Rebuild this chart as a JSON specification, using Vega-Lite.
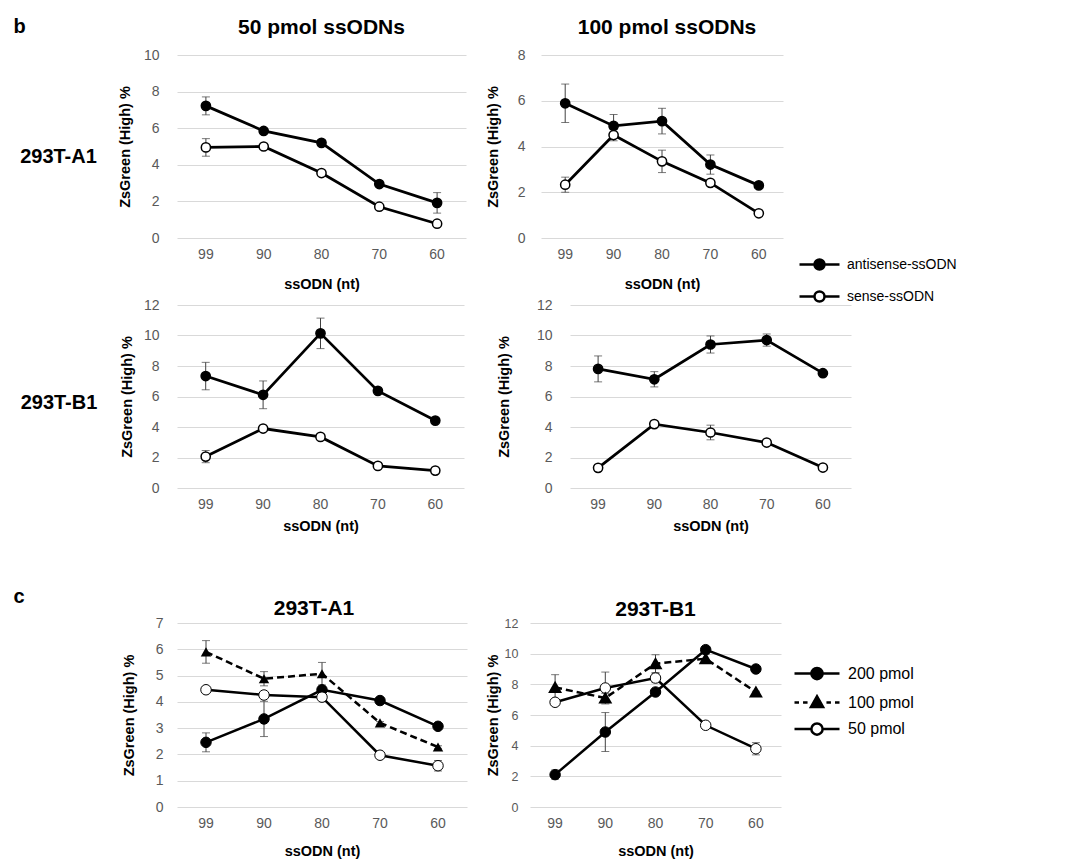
{
  "$schema": "https://vega.github.io/schema/vega-lite/v6.json",
  "background": "white",
  "padding": {"left": 0, "top": 17, "right": 5, "bottom": 2},
  "align": "each",
  "spacing": -100,
  "resolve": {"scale": {"fill": "independent", "shape": "independent", "strokeDash": "independent", "stroke": "independent"}},
  "datasets": {
    "d": [
      {"p": "b50A1", "s": "antisense-ssODN", "nt": 99, "v": 7.22, "e": 0.49},
      {"p": "b50A1", "s": "antisense-ssODN", "nt": 90, "v": 5.85, "e": 0.1},
      {"p": "b50A1", "s": "antisense-ssODN", "nt": 80, "v": 5.2, "e": 0.15},
      {"p": "b50A1", "s": "antisense-ssODN", "nt": 70, "v": 2.95, "e": 0.05},
      {"p": "b50A1", "s": "antisense-ssODN", "nt": 60, "v": 1.92, "e": 0.56},
      {"p": "b50A1", "s": "sense-ssODN", "nt": 99, "v": 4.95, "e": 0.48},
      {"p": "b50A1", "s": "sense-ssODN", "nt": 90, "v": 5.0, "e": 0.05},
      {"p": "b50A1", "s": "sense-ssODN", "nt": 80, "v": 3.55, "e": 0.05},
      {"p": "b50A1", "s": "sense-ssODN", "nt": 70, "v": 1.71, "e": 0.05},
      {"p": "b50A1", "s": "sense-ssODN", "nt": 60, "v": 0.78, "e": 0.05},
      {"p": "b100A1", "s": "antisense-ssODN", "nt": 99, "v": 5.89, "e": 0.84},
      {"p": "b100A1", "s": "antisense-ssODN", "nt": 90, "v": 4.9, "e": 0.5},
      {"p": "b100A1", "s": "antisense-ssODN", "nt": 80, "v": 5.11, "e": 0.56},
      {"p": "b100A1", "s": "antisense-ssODN", "nt": 70, "v": 3.21, "e": 0.42},
      {"p": "b100A1", "s": "antisense-ssODN", "nt": 60, "v": 2.3, "e": 0.1},
      {"p": "b100A1", "s": "sense-ssODN", "nt": 99, "v": 2.33, "e": 0.33},
      {"p": "b100A1", "s": "sense-ssODN", "nt": 90, "v": 4.5, "e": 0.25},
      {"p": "b100A1", "s": "sense-ssODN", "nt": 80, "v": 3.35, "e": 0.49},
      {"p": "b100A1", "s": "sense-ssODN", "nt": 70, "v": 2.41, "e": 0.05},
      {"p": "b100A1", "s": "sense-ssODN", "nt": 60, "v": 1.08, "e": 0.05},
      {"p": "b50B1", "s": "antisense-ssODN", "nt": 99, "v": 7.34, "e": 0.9},
      {"p": "b50B1", "s": "antisense-ssODN", "nt": 90, "v": 6.11, "e": 0.91},
      {"p": "b50B1", "s": "antisense-ssODN", "nt": 80, "v": 10.14, "e": 1.0},
      {"p": "b50B1", "s": "antisense-ssODN", "nt": 70, "v": 6.37, "e": 0.05},
      {"p": "b50B1", "s": "antisense-ssODN", "nt": 60, "v": 4.42, "e": 0.05},
      {"p": "b50B1", "s": "sense-ssODN", "nt": 99, "v": 2.06, "e": 0.4},
      {"p": "b50B1", "s": "sense-ssODN", "nt": 90, "v": 3.9, "e": 0.05},
      {"p": "b50B1", "s": "sense-ssODN", "nt": 80, "v": 3.35, "e": 0.05},
      {"p": "b50B1", "s": "sense-ssODN", "nt": 70, "v": 1.45, "e": 0.05},
      {"p": "b50B1", "s": "sense-ssODN", "nt": 60, "v": 1.14, "e": 0.05},
      {"p": "b100B1", "s": "antisense-ssODN", "nt": 99, "v": 7.81, "e": 0.85},
      {"p": "b100B1", "s": "antisense-ssODN", "nt": 90, "v": 7.13, "e": 0.5},
      {"p": "b100B1", "s": "antisense-ssODN", "nt": 80, "v": 9.41, "e": 0.56},
      {"p": "b100B1", "s": "antisense-ssODN", "nt": 70, "v": 9.7, "e": 0.4},
      {"p": "b100B1", "s": "antisense-ssODN", "nt": 60, "v": 7.53, "e": 0.05},
      {"p": "b100B1", "s": "sense-ssODN", "nt": 99, "v": 1.32, "e": 0.05},
      {"p": "b100B1", "s": "sense-ssODN", "nt": 90, "v": 4.19, "e": 0.05},
      {"p": "b100B1", "s": "sense-ssODN", "nt": 80, "v": 3.64, "e": 0.48},
      {"p": "b100B1", "s": "sense-ssODN", "nt": 70, "v": 2.98, "e": 0.05},
      {"p": "b100B1", "s": "sense-ssODN", "nt": 60, "v": 1.34, "e": 0.05},
      {"p": "cA1", "s": "200 pmol", "nt": 99, "v": 2.46, "e": 0.36},
      {"p": "cA1", "s": "200 pmol", "nt": 90, "v": 3.35, "e": 0.67},
      {"p": "cA1", "s": "200 pmol", "nt": 80, "v": 4.46, "e": 0.1},
      {"p": "cA1", "s": "200 pmol", "nt": 70, "v": 4.05, "e": 0.05},
      {"p": "cA1", "s": "200 pmol", "nt": 60, "v": 3.07, "e": 0.05},
      {"p": "cA1", "s": "100 pmol", "nt": 99, "v": 5.9, "e": 0.43},
      {"p": "cA1", "s": "100 pmol", "nt": 90, "v": 4.88, "e": 0.27},
      {"p": "cA1", "s": "100 pmol", "nt": 80, "v": 5.07, "e": 0.43},
      {"p": "cA1", "s": "100 pmol", "nt": 70, "v": 3.2, "e": 0.05},
      {"p": "cA1", "s": "100 pmol", "nt": 60, "v": 2.28, "e": 0.05},
      {"p": "cA1", "s": "50 pmol", "nt": 99, "v": 4.46, "e": 0.05},
      {"p": "cA1", "s": "50 pmol", "nt": 90, "v": 4.26, "e": 0.05},
      {"p": "cA1", "s": "50 pmol", "nt": 80, "v": 4.18, "e": 0.05},
      {"p": "cA1", "s": "50 pmol", "nt": 70, "v": 1.97, "e": 0.05},
      {"p": "cA1", "s": "50 pmol", "nt": 60, "v": 1.57, "e": 0.2},
      {"p": "cB1", "s": "200 pmol", "nt": 99, "v": 2.11, "e": 0.3},
      {"p": "cB1", "s": "200 pmol", "nt": 90, "v": 4.89, "e": 1.27},
      {"p": "cB1", "s": "200 pmol", "nt": 80, "v": 7.5, "e": 0.1},
      {"p": "cB1", "s": "200 pmol", "nt": 70, "v": 10.26, "e": 0.1},
      {"p": "cB1", "s": "200 pmol", "nt": 60, "v": 9.0, "e": 0.05},
      {"p": "cB1", "s": "100 pmol", "nt": 99, "v": 7.8, "e": 0.83},
      {"p": "cB1", "s": "100 pmol", "nt": 90, "v": 7.11, "e": 0.3},
      {"p": "cB1", "s": "100 pmol", "nt": 80, "v": 9.35, "e": 0.58},
      {"p": "cB1", "s": "100 pmol", "nt": 70, "v": 9.67, "e": 0.3},
      {"p": "cB1", "s": "100 pmol", "nt": 60, "v": 7.5, "e": 0.05},
      {"p": "cB1", "s": "50 pmol", "nt": 99, "v": 6.83, "e": 0.05},
      {"p": "cB1", "s": "50 pmol", "nt": 90, "v": 7.76, "e": 1.04},
      {"p": "cB1", "s": "50 pmol", "nt": 80, "v": 8.41, "e": 0.3},
      {"p": "cB1", "s": "50 pmol", "nt": 70, "v": 5.33, "e": 0.05},
      {"p": "cB1", "s": "50 pmol", "nt": 60, "v": 3.8, "e": 0.4}
    ]
  },
  "data": {"name": "d"},
  "vconcat": [
    {
      "bounds": "flush",
      "spacing": 20,
      "resolve": {"scale": {"fill": "independent", "shape": "independent", "strokeDash": "independent", "stroke": "independent"}},
      "hconcat": [
        {
          "width": 157, "height": 250,
          "layer": [
            {"data": {"values": [{"t": "b"}]}, "mark": {"type": "text", "fontSize": 20, "fontWeight": "bold", "align": "center", "baseline": "alphabetic", "dx": -59, "dy": -147}, "encoding": {"text": {"field": "t"}}},
            {"data": {"values": [{"t": "293T-A1"}]}, "mark": {"type": "text", "fontSize": 20, "fontWeight": "bold", "align": "center", "baseline": "middle", "dx": -20, "dy": -23}, "encoding": {"text": {"field": "t"}}}
          ]
        },
        {
          "width": 289, "height": 183,
          "title": {"text": "50 pmol ssODNs", "offset": 10},
          "transform": [{"filter": "datum.p == 'b50A1'"}],
          "encoding": {
            "x": {"field": "nt", "type": "ordinal", "sort": "descending", "axis": {"title": "ssODN (nt)", "titlePadding": 16}},
            "y": {"field": "v", "type": "quantitative", "scale": {"domain": [0, 10], "nice": false}, "axis": {"title": "ZsGreen (High) %", "values": [0, 2, 4, 6, 8, 10], "labelPadding": 18, "titlePadding": 11}}
          },
          "layer": [
            {"mark": {"type": "errorbar", "color": "#404040", "ticks": {"size": 8}, "rule": {"strokeWidth": 1}}, "encoding": {"yError": {"field": "e"}}},
            {"mark": {"type": "line", "color": "black", "strokeWidth": 2.75}, "encoding": {"detail": {"field": "s"}}},
            {"mark": {"type": "point", "shape": "circle", "filled": true, "stroke": "black", "strokeWidth": 1.5, "size": 85, "opacity": 1},
             "encoding": {"fill": {"field": "s", "type": "nominal", "scale": {"domain": ["antisense-ssODN", "sense-ssODN"], "range": ["black", "white"]}, "legend": null}}}
          ]
        },
        {"width": 35, "height": 1, "data": {"values": []}, "mark": "point"},
        {
          "width": 242, "height": 183,
          "title": {"text": "100 pmol ssODNs", "offset": 10, "dx": 5},
          "transform": [{"filter": "datum.p == 'b100A1'"}],
          "encoding": {
            "x": {"field": "nt", "type": "ordinal", "sort": "descending", "axis": {"title": "ssODN (nt)", "titlePadding": 16}},
            "y": {"field": "v", "type": "quantitative", "scale": {"domain": [0, 8], "nice": false}, "axis": {"title": "ZsGreen (High) %", "values": [0, 2, 4, 6, 8], "labelPadding": 16, "titlePadding": 17}}
          },
          "layer": [
            {"mark": {"type": "errorbar", "color": "#404040", "ticks": {"size": 8}, "rule": {"strokeWidth": 1}}, "encoding": {"yError": {"field": "e"}}},
            {"mark": {"type": "line", "color": "black", "strokeWidth": 2.75}, "encoding": {"detail": {"field": "s"}}},
            {"mark": {"type": "point", "shape": "circle", "filled": true, "stroke": "black", "strokeWidth": 1.5, "size": 85, "opacity": 1},
             "encoding": {"fill": {"field": "s", "type": "nominal", "scale": {"domain": ["antisense-ssODN", "sense-ssODN"], "range": ["black", "white"]}, "legend": null}}}
          ]
        }
      ]
    },
    {
      "bounds": "flush",
      "spacing": 20,
      "resolve": {"scale": {"fill": "independent", "shape": "independent", "strokeDash": "independent", "stroke": "independent"}},
      "hconcat": [
        {
          "width": 157, "height": 318,
          "data": {"values": [{"t": "293T-B1"}]},
          "mark": {"type": "text", "fontSize": 20, "fontWeight": "bold", "align": "center", "baseline": "middle", "dx": -19.5, "dy": -61},
          "encoding": {"text": {"field": "t"}}
        },
        {
          "width": 287, "height": 183,
          "transform": [{"filter": "datum.p == 'b50B1'"}],
          "encoding": {
            "x": {"field": "nt", "type": "ordinal", "sort": "descending", "axis": {"title": "ssODN (nt)", "titlePadding": 8}},
            "y": {"field": "v", "type": "quantitative", "scale": {"domain": [0, 12], "nice": false}, "axis": {"title": "ZsGreen (High) %", "values": [0, 2, 4, 6, 8, 10, 12], "labelPadding": 18, "titlePadding": 9}}
          },
          "layer": [
            {"mark": {"type": "errorbar", "color": "#404040", "ticks": {"size": 8}, "rule": {"strokeWidth": 1}}, "encoding": {"yError": {"field": "e"}}},
            {"mark": {"type": "line", "color": "black", "strokeWidth": 2.75}, "encoding": {"detail": {"field": "s"}}},
            {"mark": {"type": "point", "shape": "circle", "filled": true, "stroke": "black", "strokeWidth": 1.5, "size": 85, "opacity": 1},
             "encoding": {"fill": {"field": "s", "type": "nominal", "scale": {"domain": ["antisense-ssODN", "sense-ssODN"], "range": ["black", "white"]}, "legend": null}}}
          ]
        },
        {"width": 66, "height": 1, "data": {"values": []}, "mark": "point"},
        {
          "width": 281, "height": 183,
          "transform": [{"filter": "datum.p == 'b100B1'"}],
          "encoding": {
            "x": {"field": "nt", "type": "ordinal", "sort": "descending", "axis": {"title": "ssODN (nt)", "titlePadding": 8}},
            "y": {"field": "v", "type": "quantitative", "scale": {"domain": [0, 12], "nice": false}, "axis": {"title": "ZsGreen (High) %", "values": [0, 2, 4, 6, 8, 10, 12], "labelPadding": 18, "titlePadding": 25}}
          },
          "layer": [
            {"mark": {"type": "errorbar", "color": "#404040", "ticks": {"size": 8}, "rule": {"strokeWidth": 1}}, "encoding": {"yError": {"field": "e"}}},
            {"mark": {"type": "line", "color": "black", "strokeWidth": 2.75}, "encoding": {"detail": {"field": "s"}}},
            {"mark": {"type": "point", "shape": "circle", "filled": true, "stroke": "black", "strokeWidth": 1.5, "size": 85, "opacity": 1},
             "encoding": {"fill": {"field": "s", "type": "nominal", "scale": {"domain": ["antisense-ssODN", "sense-ssODN"], "range": ["black", "white"]},
               "legend": {"orient": "none", "legendX": 228, "legendY": -62, "title": null, "labelFontSize": 14, "labelOffset": 6, "rowPadding": -1,
                 "symbolType": "M-1,0L-0.25,0M0.25,0L1,0M-0.25,0A0.25,0.25 0 1,1 0.25,0A0.25,0.25 0 1,1 -0.25,0Z", "symbolSize": 1600, "symbolStrokeWidth": 2.5, "symbolStrokeColor": "black"}}}}
          ]
        }
      ]
    },
    {
      "bounds": "flush",
      "spacing": 20,
      "resolve": {"scale": {"fill": "independent", "shape": "independent", "strokeDash": "independent", "stroke": "independent"}},
      "hconcat": [
        {
          "width": 157, "height": 184,
          "data": {"values": [{"t": "c"}]},
          "mark": {"type": "text", "fontSize": 20, "fontWeight": "bold", "align": "center", "baseline": "alphabetic", "dx": -59.5, "dy": -112},
          "encoding": {"text": {"field": "t"}}
        },
        {
          "width": 290, "height": 184,
          "title": {"text": "293T-A1", "offset": -3, "dx": -8},
          "transform": [{"filter": "datum.p == 'cA1'"}],
          "encoding": {
            "x": {"field": "nt", "type": "ordinal", "sort": "descending", "axis": {"title": "ssODN (nt)", "titlePadding": 14}},
            "y": {"field": "v", "type": "quantitative", "scale": {"domain": [0, 7], "nice": false}, "axis": {"title": "ZsGreen (High) %", "values": [0, 1, 2, 3, 4, 5, 6, 7], "labelPadding": 14, "titlePadding": 19}}
          },
          "layer": [
            {"mark": {"type": "errorbar", "color": "#404040", "ticks": {"size": 8}, "rule": {"strokeWidth": 1}}, "encoding": {"yError": {"field": "e"}}},
            {"transform": [{"filter": "datum.s != '100 pmol'"}], "mark": {"type": "line", "color": "black", "strokeWidth": 2.5}, "encoding": {"detail": {"field": "s"}}},
            {"transform": [{"filter": "datum.s == '100 pmol'"}], "mark": {"type": "line", "color": "black", "strokeWidth": 2.5, "strokeDash": [7, 4]}, "encoding": {"detail": {"field": "s"}}},
            {"transform": [{"filter": "datum.s != '100 pmol'"}], "mark": {"type": "point", "shape": "circle", "filled": true, "stroke": "black", "strokeWidth": 1, "size": 110, "opacity": 1},
             "encoding": {"fill": {"field": "s", "type": "nominal", "scale": {"domain": ["200 pmol", "100 pmol", "50 pmol"], "range": ["black", "black", "white"]}, "legend": null}}},
            {"transform": [{"filter": "datum.s == '100 pmol'"}], "mark": {"type": "point", "shape": "triangle-up", "filled": true, "color": "black", "size": 110, "opacity": 1}}
          ]
        },
        {"width": 23, "height": 1, "data": {"values": []}, "mark": "point"},
        {
          "width": 251, "height": 184,
          "title": {"text": "293T-B1", "offset": -3},
          "transform": [{"filter": "datum.p == 'cB1'"}],
          "encoding": {
            "x": {"field": "nt", "type": "ordinal", "sort": "descending", "axis": {"title": "ssODN (nt)", "titlePadding": 14}},
            "y": {"field": "v", "type": "quantitative", "scale": {"domain": [0, 12], "nice": false}, "axis": {"title": "ZsGreen (High) %", "values": [0, 2, 4, 6, 8, 10, 12], "labelPadding": 12, "titlePadding": 4, "labelFontSize": 12.5}}
          },
          "layer": [
            {"mark": {"type": "errorbar", "color": "#404040", "ticks": {"size": 8}, "rule": {"strokeWidth": 1}}, "encoding": {"yError": {"field": "e"}}},
            {"transform": [{"filter": "datum.s != '100 pmol'"}], "mark": {"type": "line", "color": "black", "strokeWidth": 2.5}, "encoding": {"detail": {"field": "s"}}},
            {"transform": [{"filter": "datum.s == '100 pmol'"}], "mark": {"type": "line", "color": "black", "strokeWidth": 2.5, "strokeDash": [7, 4]}, "encoding": {"detail": {"field": "s"}}},
            {"transform": [{"filter": "datum.s != '100 pmol'"}], "mark": {"type": "point", "shape": "circle", "filled": true, "stroke": "black", "strokeWidth": 1, "size": 110, "opacity": 1},
             "encoding": {"fill": {"field": "s", "type": "nominal", "scale": {"domain": ["200 pmol", "50 pmol"], "range": ["black", "white"]},
               "legend": {"orient": "none", "legendX": 263, "legendY": 26.5, "title": null, "labelFontSize": 16, "labelOffset": 7, "rowPadding": 20.5,
                 "symbolType": "M-1,0L-0.25,0M0.25,0L1,0M-0.25,0A0.25,0.25 0 1,1 0.25,0A0.25,0.25 0 1,1 -0.25,0Z", "symbolSize": 2025, "symbolStrokeWidth": 2.5, "symbolStrokeColor": "black"}}}},
            {"transform": [{"filter": "datum.s == '100 pmol'"}], "mark": {"type": "point", "shape": "triangle-up", "filled": true, "color": "black", "size": 110, "opacity": 1},
             "encoding": {"stroke": {"field": "s", "type": "nominal", "scale": {"domain": ["100 pmol"], "range": ["black"]},
               "legend": {"orient": "none", "legendX": 263, "legendY": 55.5, "title": null, "labelFontSize": 16, "labelOffset": 7,
                 "symbolType": "M-1,0L-0.8,0M-0.62,0L-0.42,0M0.42,0L0.62,0M0.8,0L1,0M-0.27,0.2L0,-0.28L0.27,0.2Z", "symbolSize": 2025, "symbolStrokeWidth": 2.5, "symbolFillColor": "black", "symbolStrokeColor": "black"}}}}
          ]
        }
      ]
    }
  ],
  "config": {
    "view": {"stroke": null},
    "font": "Liberation Sans",
    "title": {"font": "Liberation Sans", "fontSize": 21, "fontWeight": "bold", "color": "black", "baseline": "alphabetic"},
    "axis": {"labelFont": "Liberation Sans", "labelColor": "#595959", "labelFontSize": 14, "titleFont": "Liberation Sans", "titleFontWeight": "bold", "titleFontSize": 14.5, "titleColor": "black", "ticks": false, "domain": false, "gridColor": "#d9d9d9", "gridWidth": 1},
    "axisX": {"grid": false, "labelAngle": 0, "labelPadding": 9},
    "axisY": {"grid": true},
    "legend": {"labelFont": "Liberation Sans", "labelColor": "black", "padding": 0},
    "text": {"font": "Liberation Sans", "color": "black"},
    "point": {"opacity": 1}
  }
}
